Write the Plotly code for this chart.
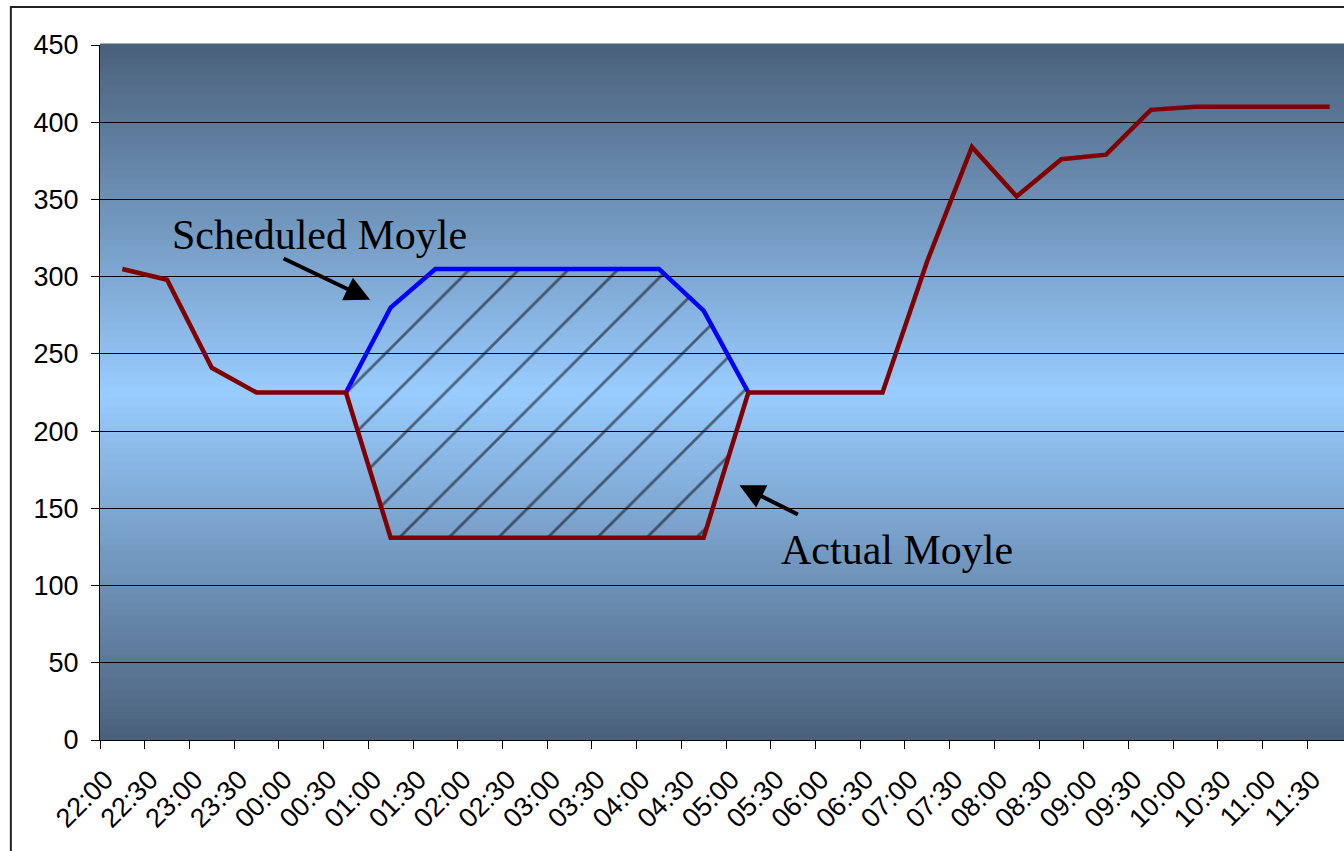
import plotly.graph_objects as go

categories = ["22:00", "22:30", "23:00", "23:30", "00:00", "00:30", "01:00", "01:30",
              "02:00", "02:30", "03:00", "03:30", "04:00", "04:30", "05:00", "05:30",
              "06:00", "06:30", "07:00", "07:30", "08:00", "08:30", "09:00", "09:30",
              "10:00", "10:30", "11:00", "11:30"]

actual_moyle = [305, 298, 241, 225, 225, 225, 131, 131, 131, 131, 131, 131, 131, 131,
                225, 225, 225, 225, 310, 384, 352, 376, 379, 408, 410, 410, 410, 410]

scheduled_cats = ["00:30", "01:00", "01:30", "02:00", "02:30", "03:00", "03:30",
                  "04:00", "04:30", "05:00"]
scheduled_moyle = [225, 280, 305, 305, 305, 305, 305, 305, 278, 225]

y_ticks = [0, 50, 100, 150, 200, 250, 300, 350, 400, 450]

# actual values over the scheduled window (lower bound of the hatched area)
sched_idx = [categories.index(c) for c in scheduled_cats]
actual_window = [actual_moyle[i] for i in sched_idx]

fig = go.Figure()

fig.add_trace(go.Scatter(x=scheduled_cats, y=actual_window, mode="lines",
                         line=dict(width=0, color="rgba(0,0,0,0)"),
                         showlegend=False, hoverinfo="skip"))
fig.add_trace(go.Scatter(x=scheduled_cats, y=scheduled_moyle, mode="lines",
                         name="Scheduled Moyle",
                         line=dict(color="#0000FF", width=4.5),
                         fill="tonexty", fillcolor="rgba(0,0,0,0)",
                         fillpattern=dict(shape="/", fgcolor="black", bgcolor="rgba(0,0,0,0)",
                                          size=35, solidity=0.08),
                         showlegend=False))
fig.add_trace(go.Scatter(x=categories, y=actual_moyle, mode="lines",
                         name="Actual Moyle",
                         line=dict(color="#800000", width=4.5),
                         showlegend=False))

# vertical gradient background (dark at top/bottom, light blue in the middle)
def lerp(c1, c2, t):
    return tuple(round(a + (b - a) * t) for a, b in zip(c1, c2))

dark = (0x4A, 0x60, 0x7A)
light = (0x99, 0xCC, 0xFF)
n = 100
shapes = []
for k in range(n):
    y0 = k / n
    y1 = (k + 1) / n
    mid = (y0 + y1) / 2
    t = 1 - abs(mid - 0.5) * 2
    c = lerp(dark, light, t)
    shapes.append(dict(type="rect", xref="paper", yref="paper", x0=0, x1=1,
                       y0=y0, y1=y1 + 0.002, fillcolor="rgb(%d,%d,%d)" % c,
                       line=dict(width=0), layer="below"))

# chart-area border
shapes.append(dict(type="rect", xref="paper", yref="paper", x0=-0.0712, x1=1.05,
                   y0=-0.3, y1=1.0547, line=dict(color="#222222", width=2),
                   fillcolor="rgba(0,0,0,0)", layer="above"))

fig.update_layout(
    width=1352, height=851,
    margin=dict(l=100, r=0, t=45, b=111),
    paper_bgcolor="white",
    plot_bgcolor="rgba(0,0,0,0)",
    shapes=shapes,
    font=dict(family="Liberation Sans, Arial, sans-serif", color="black"),
    xaxis=dict(type="category", categoryorder="array", categoryarray=categories,
               range=[-0.5, len(categories) - 0.5],
               tickson="boundaries", ticks="outside", ticklen=8, tickcolor="black",
               tickangle=-45, tickfont=dict(size=27),
               ticklabelshift=-17, ticklabelstandoff=12,
               showgrid=False, showline=True, linecolor="black", linewidth=1,
               zeroline=False),
    yaxis=dict(range=[0, 450], tickvals=y_ticks, ticks="outside", ticklen=8,
               tickcolor="black", tickfont=dict(size=27), ticklabelstandoff=7,
               showgrid=True, gridcolor="black", gridwidth=1,
               showline=True, linecolor="black", linewidth=1, zeroline=False),
    annotations=[
        dict(text="Scheduled Moyle", x=4.41, y=327, xref="x", yref="y",
             showarrow=False, font=dict(family="Liberation Serif, Times New Roman, serif",
                                         size=42, color="black")),
        dict(text="", x=5.54, y=285, xref="x", yref="y", showarrow=True,
             ax=-88, ay=-42, arrowhead=2, arrowsize=1.25, arrowwidth=4, arrowcolor="black"),
        dict(text="Actual Moyle", x=17.33, y=123, xref="x", yref="y",
             showarrow=False, font=dict(family="Liberation Serif, Times New Roman, serif",
                                         size=42, color="black")),
        dict(text="", x=13.8, y=165, xref="x", yref="y", showarrow=True,
             ax=60, ay=30, arrowhead=2, arrowsize=1.25, arrowwidth=4, arrowcolor="black"),
    ],
)

fig.write_html(
    "out.html",
    config={"displayModeBar": False},
    post_script=("document.body.style.margin='0';"
                 "document.body.style.overflow='hidden';"
                 "document.documentElement.style.overflow='hidden';"),
)
